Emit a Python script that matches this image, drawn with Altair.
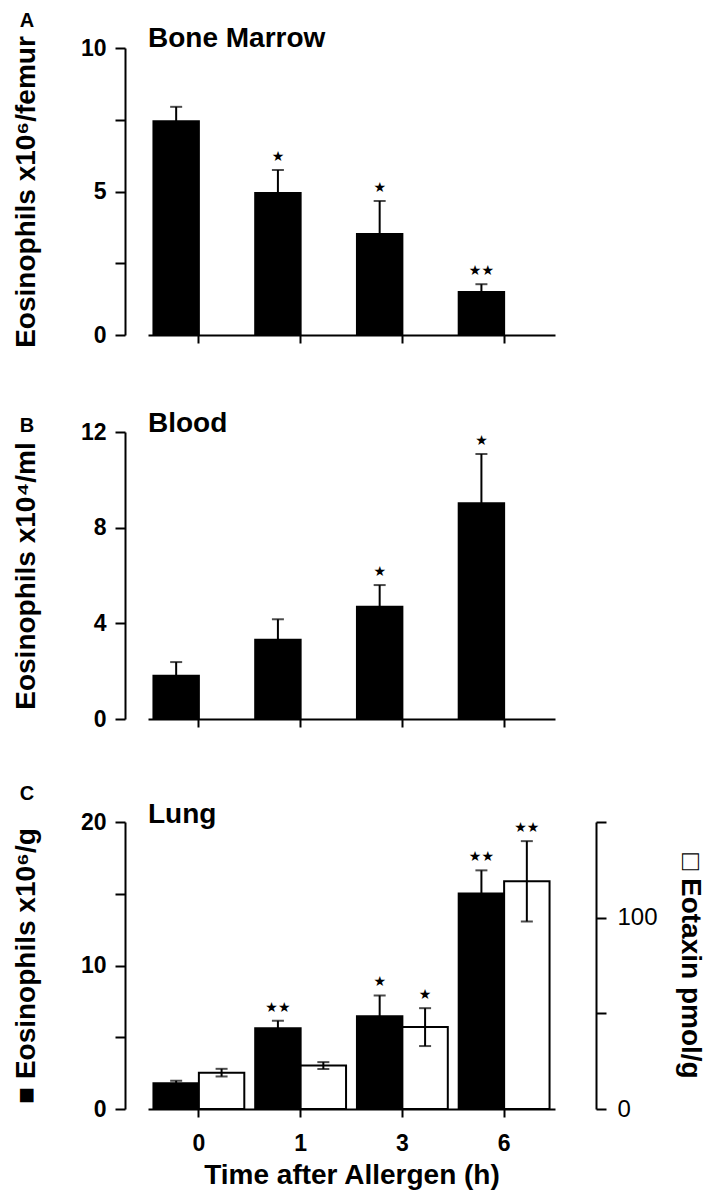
import altair as alt
import pandas as pd

# ---------------- data ----------------
times = ["0", "1", "3", "6"]

bm_values = [7.45, 4.95, 3.52, 1.50]
bm_err = [0.50, 0.80, 1.15, 0.27]
bm_stars = ["", "★", "★", "★★"]

blood_values = [1.81, 3.31, 4.69, 9.02]
blood_err = [0.57, 0.86, 0.91, 2.06]
blood_stars = ["", "", "★", "★"]

lung_eos = [1.79, 5.62, 6.47, 15.01]
lung_eos_err = [0.18, 0.53, 1.44, 1.62]
lung_eos_stars = ["", "★★", "★", "★★"]

lung_eot = [19.0, 22.7, 42.8, 119.0]
lung_eot_err = [2.0, 1.8, 9.9, 21.0]
lung_eot_stars = ["", "", "★", "★★"]

series_domain = ["eos", "eot"]

FONT = "Liberation Sans"
W = 407
H = 287


def make_df(values, errs, stars, series):
    return pd.DataFrame({
        "time": times,
        "value": values,
        "lo": [v - e for v, e in zip(values, errs)],
        "hi": [v + e for v, e in zip(values, errs)],
        "star": stars,
        "series": series,
    })


def x_enc(show_labels):
    if show_labels:
        ax = alt.Axis(labelAngle=0, labelFont=FONT, labelFontSize=23, labelFontWeight="bold",
                      labelColor="black", labelPadding=15, domainColor="black", domainWidth=2,
                      tickColor="black", tickWidth=2, tickSize=8,
                      title="Time after Allergen (h)", titleFont=FONT, titleFontSize=28,
                      titleFontWeight="bold", titleColor="black", titlePadding=6)
    else:
        ax = alt.Axis(labels=False, title=None, domainColor="black", domainWidth=2,
                      tickColor="black", tickWidth=2, tickSize=8)
    return alt.X("time:N", sort=times,
                 scale=alt.Scale(domain=times, paddingInner=0, paddingOuter=0), axis=ax)


def xoff_enc():
    return alt.XOffset("series:N",
                       scale=alt.Scale(domain=series_domain, paddingInner=0, paddingOuter=0.12))


def y_axis(values, label_mod, title, orient="left", offset=23, title_x=-85):
    props = dict(values=values,
                 labelExpr=f"datum.value % {label_mod} == 0 ? datum.label : ''",
                 grid=False, offset=offset, orient=orient,
                 domainColor="black", domainWidth=2, tickColor="black", tickWidth=2, tickSize=10,
                 labelFont=FONT, labelFontSize=23, labelColor="black", labelPadding=9,
                 title=title, titleFont=FONT, titleFontSize=28, titleFontWeight="bold",
                 titleColor="black")
    if orient == "left":
        props.update(labelFontWeight="bold", titleX=title_x, titleY=H / 2, titleAngle=-90,
                     titleBaseline="bottom", titleAlign="center")
    else:
        props.update(labelFontWeight="normal", labelFontSize=24, labelPadding=11,
                     titlePadding=18, titleAngle=90)
    return alt.Axis(**props)


def series_layer(df, ydom, yaxis, fill, show_x_labels):
    base = alt.Chart(df)
    y_scale = alt.Scale(domain=ydom, nice=False, zero=True)
    x = x_enc(show_x_labels)
    xo = xoff_enc()
    bars = base.mark_bar(fill=fill, stroke="black", strokeWidth=2).encode(
        x=x, xOffset=xo, y=alt.Y("value:Q", scale=y_scale, axis=yaxis))
    rule = base.mark_rule(color="black", strokeWidth=2).encode(
        x=x, xOffset=xo, y="lo:Q", y2="hi:Q")
    caps_hi = base.mark_tick(color="black", thickness=2, size=12).encode(
        x=x, xOffset=xo, y="hi:Q")
    caps_lo = base.mark_tick(color="black", thickness=2, size=12).encode(
        x=x, xOffset=xo, y="lo:Q")
    stars = base.mark_text(font="DejaVu Sans", fontSize=14, baseline="middle", dy=-13,
                           color="black").encode(
        x=x, xOffset=xo, y="hi:Q", text="star:N")
    return alt.layer(bars, rule, caps_hi, caps_lo, stars)


def annot(letter, name, letter_y, name_y):
    lt = alt.Chart(pd.DataFrame({"t": [letter]})).mark_text(
        font=FONT, fontSize=20, fontWeight="bold", baseline="alphabetic", align="center",
        color="black").encode(x=alt.value(-121), y=alt.value(letter_y), text="t:N")
    nm = alt.Chart(pd.DataFrame({"t": [name]})).mark_text(
        font=FONT, fontSize=28, fontWeight="bold", baseline="alphabetic", align="left",
        color="black").encode(x=alt.value(0), y=alt.value(name_y), text="t:N")
    return [lt, nm]


# ---------------- panel A ----------------
dfA = make_df(bm_values, bm_err, bm_stars, "eos")
A = alt.layer(
    series_layer(dfA, [0, 10], y_axis([0, 2.5, 5, 7.5, 10], 5, "Eosinophils x10⁶/femur"),
                 "black", False),
    *annot("A", "Bone Marrow", -21, -1),
).properties(width=W, height=H)

# ---------------- panel B ----------------
dfB = make_df(blood_values, blood_err, blood_stars, "eos")
B = alt.layer(
    series_layer(dfB, [0, 12], y_axis([0, 4, 8, 12], 4, "Eosinophils x10⁴/ml"),
                 "black", False),
    *annot("B", "Blood", 0, 0),
).properties(width=W, height=H)

# ---------------- panel C ----------------
dfC1 = make_df(lung_eos, lung_eos_err, lung_eos_stars, "eos")
dfC2 = make_df(lung_eot, lung_eot_err, lung_eot_stars, "eot")
C = alt.layer(
    series_layer(dfC1, [0, 20], y_axis([0, 5, 10, 15, 20], 10, "■ Eosinophils x10⁶/g"),
                 "black", True),
    series_layer(dfC2, [0, 150], y_axis([0, 50, 100, 150], 100, "□ Eotaxin pmol/g",
                                        orient="right", offset=41),
                 "white", True),
    *annot("C", "Lung", -22, 1),
).resolve_scale(y="independent").properties(width=W, height=H)

chart = alt.vconcat(
    A,
    alt.vconcat(B, C, spacing=53),
    spacing=62,
).properties(
    padding={"left": 4, "top": 3, "right": 3, "bottom": 2},
    background="white",
).configure_view(stroke=None, strokeWidth=0)

chart.save("out.html", embed_options={"renderer": "svg", "actions": False})
